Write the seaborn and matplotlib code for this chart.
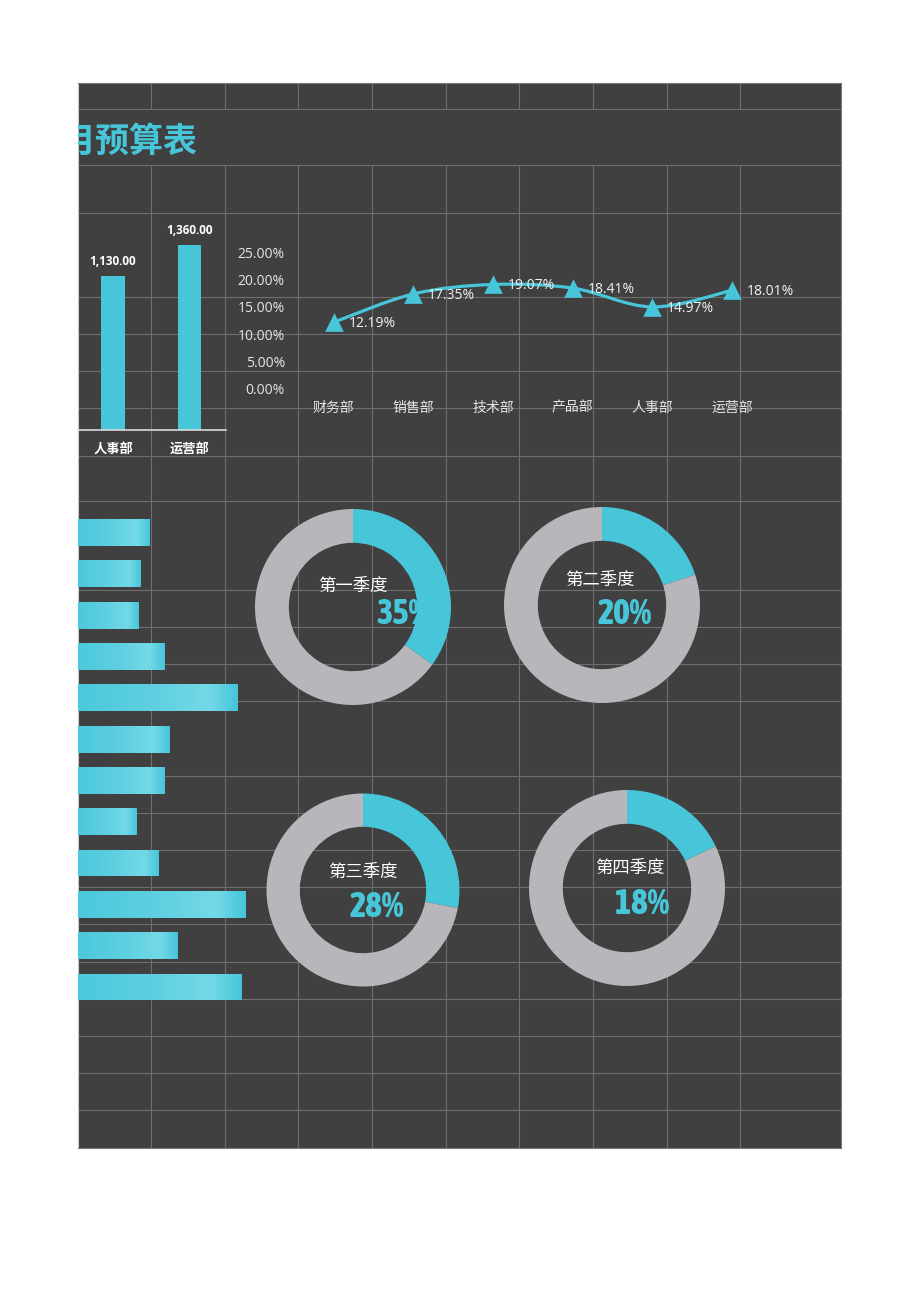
import numpy as np
import pandas as pd
import matplotlib
matplotlib.use("Agg")
import matplotlib.pyplot as plt
import seaborn as sns
from matplotlib.path import Path
from matplotlib.patches import PathPatch
from matplotlib.colors import LinearSegmentedColormap
from matplotlib import font_manager as fm

# ---------------- data ----------------
title_text = "月预算表"

top_bar_departments = ["人事部", "运营部"]
top_bar_values = [1130.00, 1360.00]

line_departments = ["财务部", "销售部", "技术部", "产品部", "人事部", "运营部"]
line_shares = [12.19, 17.35, 19.07, 18.41, 14.97, 18.01]  # percent
line_ticks = [0, 5, 10, 15, 20, 25]

month_labels = ["1月", "2月", "3月", "4月", "5月", "6月",
                "7月", "8月", "9月", "10月", "11月", "12月"]
month_values = [710, 620, 600, 860, 1600, 910, 860, 580, 800, 1680, 990, 1640]

quarter_labels = ["第一季度", "第二季度", "第三季度", "第四季度"]
quarter_shares = [35, 20, 28, 18]

# ---------------- style ----------------
W, H, DPI = 920, 1301, 100
CYAN = "#47C6DA"
RING_GRAY = "#B8B6BB"
PANEL = "#404040"
GRID = "#6E6E6E"

sns.set_theme(style="white")
plt.rcParams['font.family'] = ['Open Sans', 'Noto Sans CJK SC', 'DejaVu Sans']
plt.rcParams['axes.unicode_minus'] = False


def condensed_bold_font(size):
    """Pick a condensed / narrow bold face if one is installed."""
    cands = []
    for f in fm.fontManager.ttflist:
        name = f.name.lower()
        narrow = ("narrow" in name or "condensed" in name or
                  str(f.stretch).lower() in ("condensed", "semi-condensed",
                                             "extra-condensed", "ultra-condensed")
                  or (isinstance(f.stretch, (int, float)) and f.stretch < 500))
        if not narrow:
            continue
        w = f.weight if isinstance(f.weight, (int, float)) else (
            700 if "bold" in str(f.weight).lower() else 400)
        if "italic" in str(f.style).lower() or "oblique" in str(f.style).lower():
            continue
        cands.append((abs(w - 800), f.fname))
    if cands:
        cands.sort()
        return fm.FontProperties(fname=cands[0][1], size=size)
    return fm.FontProperties(family="DejaVu Sans", weight="bold",
                             stretch="condensed", size=size)


fig = plt.figure(figsize=(W / DPI, H / DPI), dpi=DPI, facecolor="white")


def rect(x0, y0, x1, y1):
    return [x0 / W, 1 - y1 / H, (x1 - x0) / W, (y1 - y0) / H]


# ---------------- background sheet ----------------
PX0, PY0, PX1, PY1 = 78, 83, 841, 1148
ax_bg = fig.add_axes(rect(PX0, PY0, PX1, PY1))
ax_bg.set_xlim(PX0, PX1)
ax_bg.set_ylim(PY1, PY0)
ax_bg.set_facecolor(PANEL)
ax_bg.set_xticks([])
ax_bg.set_yticks([])
for s in ax_bg.spines.values():
    s.set_color("#7A7A7A")
    s.set_linewidth(0.8)
ax_bg.spines['left'].set_color("#C8C8C8")

grid_cols = [151, 225, 298, 372, 446, 519, 593, 667, 740]
grid_rows = [109, 165, 213, 297, 334, 371, 408, 456, 501, 590, 627, 664, 701,
             776, 813, 850, 887, 924, 962, 999, 1036, 1073, 1110]
ax_bg.vlines(grid_cols, PY0, 109, color=GRID, lw=0.8)
ax_bg.vlines(grid_cols, 165, PY1, color=GRID, lw=0.8)
ax_bg.hlines(grid_rows, PX0, PX1, color=GRID, lw=0.8)

ax_bg.text(197, 141, title_text, ha="right", va="center", fontsize=24.5,
           fontweight="bold", color=CYAN, family=['Noto Sans CJK SC'],
           clip_on=True)

# ---------------- top-left vertical bars ----------------
ax_b = fig.add_axes(rect(78, 213, 226, 430))
df_top = pd.DataFrame({"dept": top_bar_departments, "value": top_bar_values})
sns.barplot(data=df_top, x="dept", y="value", color=CYAN, saturation=1,
            width=0.31, linewidth=0, edgecolor="none", ax=ax_b)
ax_b.set_xlim(-0.4575, 1.477)
ax_b.set_ylim(0, 1595)
ax_b.set_facecolor("none")
for k in ["left", "right", "top"]:
    ax_b.spines[k].set_visible(False)
ax_b.spines["bottom"].set_color("#D9D9D9")
ax_b.spines["bottom"].set_linewidth(1.2)
ax_b.set_yticks([])
ax_b.set_xlabel("")
ax_b.set_ylabel("")
ax_b.tick_params(axis="x", length=0, pad=10, labelsize=9.5, labelcolor="white")
for lab in ax_b.get_xticklabels():
    lab.set_fontweight("bold")
for cont in ax_b.containers:
    ax_b.bar_label(cont, fmt="{:,.2f}", padding=6, fontsize=8.5,
                   fontweight="bold", color="white")

# ---------------- line chart ----------------
ax_l = fig.add_axes(rect(294, 252, 772, 389))
xs = np.arange(len(line_departments), dtype=float)
ys = np.array(line_shares, dtype=float)

# smooth curve (Catmull-Rom -> cubic Bezier through the data points)
pts = np.column_stack([xs, ys])
ext = np.vstack([pts[0], pts, pts[-1]])
verts = [tuple(pts[0])]
codes = [Path.MOVETO]
for i in range(len(pts) - 1):
    p0, p1, p2, p3 = ext[i], ext[i + 1], ext[i + 2], ext[i + 3]
    c1 = p1 + (p2 - p0) / 6.0
    c2 = p2 - (p3 - p1) / 6.0
    verts += [tuple(c1), tuple(c2), tuple(p2)]
    codes += [Path.CURVE4] * 3
curve = PathPatch(Path(verts, codes), fill=False, edgecolor=CYAN, lw=2.3,
                  capstyle="round", zorder=3, clip_on=False)
ax_l.add_patch(curve)

sns.scatterplot(x=xs, y=ys, marker="^", s=180, color=CYAN, linewidth=0,
                ax=ax_l, zorder=4, clip_on=False, legend=False)
for x, y in zip(xs, ys):
    ax_l.annotate(f"{y:.2f}%", (x, y), xytext=(10.5, -1), textcoords="offset points",
                  ha="left", va="center", fontsize=10, color="#F2F2F2",
                  annotation_clip=False, zorder=5)

ax_l.set_xlim(-0.5, 5.5)
ax_l.set_ylim(0, 25)
ax_l.set_facecolor("none")
for s in ax_l.spines.values():
    s.set_visible(False)
ax_l.set_xticks(xs, line_departments)
ax_l.set_yticks(line_ticks, [f"{t:.2f}%" for t in line_ticks])
ax_l.tick_params(axis="both", length=0, labelsize=10, labelcolor="#E6E6E6")
ax_l.tick_params(axis="y", pad=6.5)
ax_l.tick_params(axis="x", pad=8.5)
ax_l.set_xlabel("")
ax_l.set_ylabel("")

# ---------------- left horizontal gradient bars ----------------
ax_h = fig.add_axes(rect(78, 511.8, 298, 1007.7))
df_m = pd.DataFrame({"month": month_labels, "value": month_values})
sns.barplot(data=df_m, y="month", x="value", orient="h", color=CYAN,
            saturation=1, width=0.65, linewidth=0, edgecolor="none", ax=ax_h)
grad_cmap = LinearSegmentedColormap.from_list(
    "bargrad", [(0.0, "#4BC9DC"), (0.45, "#5DCFE0"), (0.82, "#74D9E7"), (1.0, "#45C5DA")])
grad = np.linspace(0, 1, 256).reshape(1, -1)
for p in list(ax_h.patches):
    x0, y0, w, h = p.get_x(), p.get_y(), p.get_width(), p.get_height()
    im = ax_h.imshow(grad, cmap=grad_cmap, extent=(x0, x0 + w, y0 + h, y0),
                     aspect="auto", interpolation="bilinear",
                     zorder=p.get_zorder() + 0.1)
    im.set_clip_path(p)
ax_h.set_xlim(0, 2200)
ax_h.set_ylim(11.5, -0.5)
ax_h.set_facecolor("none")
for s in ax_h.spines.values():
    s.set_visible(False)
ax_h.set_xticks([])
ax_h.set_yticks([])
ax_h.set_xlabel("")
ax_h.set_ylabel("")

# ---------------- quarter donuts ----------------
pct_font = condensed_bold_font(25)
donut_layout = [  # centre x, centre y, radius (px), label offset, pct offset
    (353, 607, 98, (0, -21), (51, 6.5)),
    (602, 605, 98, (-2, -25), (23, 9.5)),
    (363, 890, 96.5, (0, -18), (14, 17)),
    (627, 888, 98, (3, -20), (15, 16)),
]
for (cx, cy, r, loff, poff), lab, share in zip(donut_layout, quarter_labels, quarter_shares):
    ax_d = fig.add_axes(rect(cx - r, cy - r, cx + r, cy + r))
    ax_d.set_facecolor("none")
    wedges, _ = ax_d.pie([share, 100 - share], colors=[CYAN, RING_GRAY],
                         startangle=90, counterclock=False, radius=1,
                         wedgeprops=dict(width=0.345, edgecolor="none", linewidth=0))
    for wdg in wedges:
        wdg.set_zorder(2)
    ax_d.set_xlim(-1, 1)
    ax_d.set_ylim(-1, 1)
    ax_d.text(loff[0] / r, -loff[1] / r, lab, ha="center", va="center",
              fontsize=12.5, color="white", family=['Noto Sans CJK SC'], zorder=3)
    ax_d.text(poff[0] / r, -poff[1] / r, f"{share}%", ha="center", va="center",
              fontproperties=pct_font, color=CYAN, zorder=1)
    ax_d.axis("off")

fig.savefig("out.png", dpi=DPI, facecolor="white")
